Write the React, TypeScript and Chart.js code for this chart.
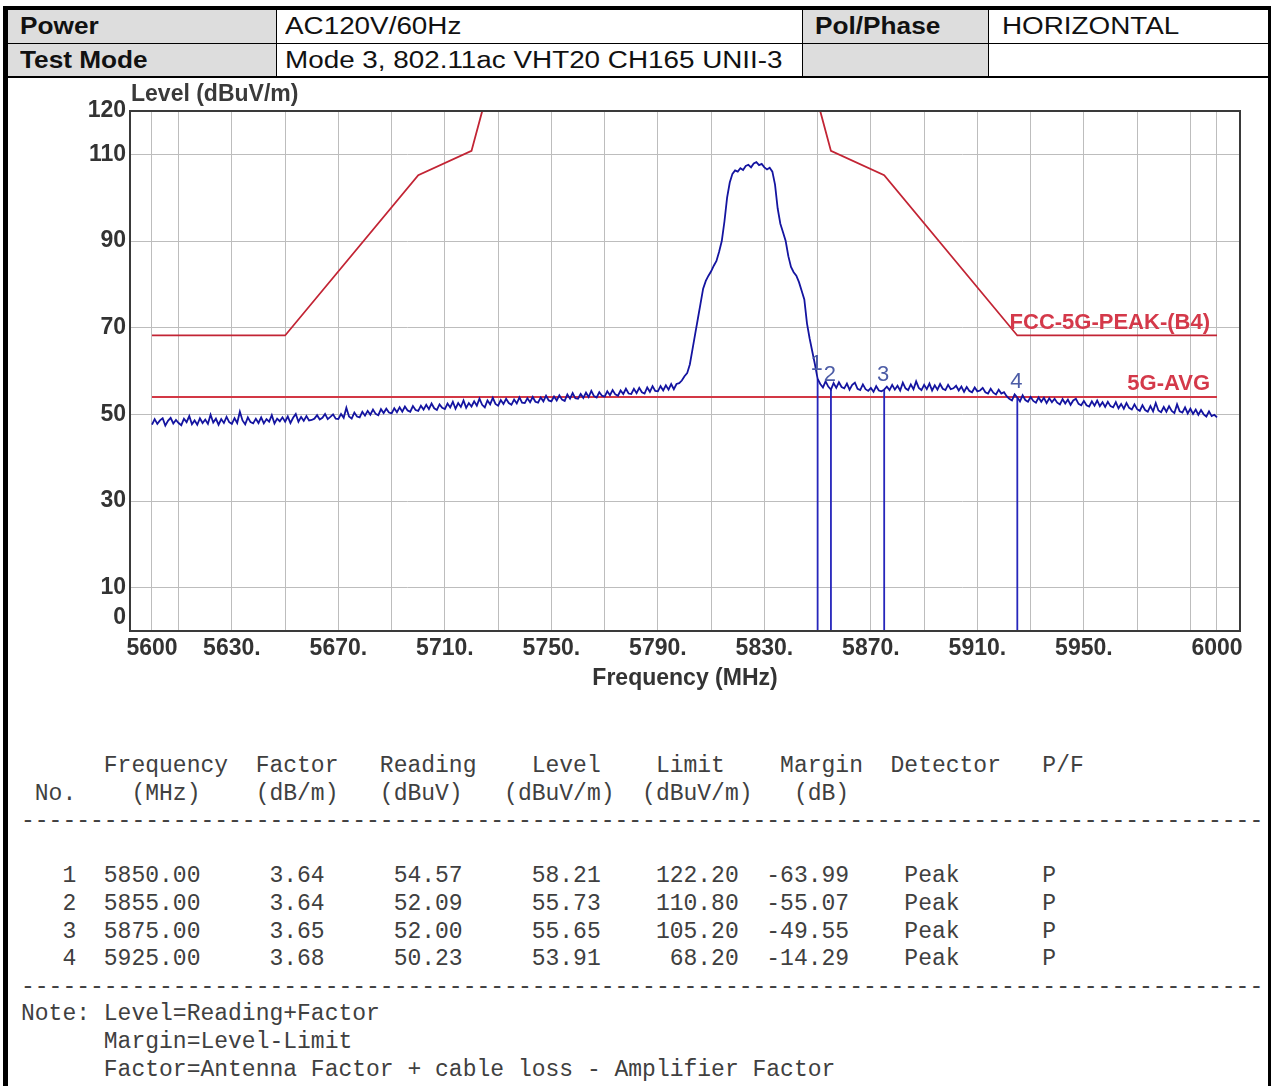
import React, { useEffect, useRef } from "react";
import { Chart, registerables } from "chart.js";

Chart.register(...registerables);

// ---------------- header table ----------------
const headerLabels1 = ["Power", "Pol/Phase"];
const headerValues1 = ["AC120V/60Hz", "HORIZONTAL"];
const headerLabels2 = ["Test Mode", ""];
const headerValues2 = ["Mode 3, 802.11ac VHT20 CH165 UNII-3", ""];

// ---------------- axes ----------------
const yAxisTitle = "Level (dBuV/m)";
const xAxisTitle = "Frequency (MHz)";
const xTickValues = [5600, 5610, 5630, 5650, 5670, 5690, 5710, 5730, 5750, 5770, 5790, 5810, 5830, 5850, 5870, 5890, 5910, 5930, 5950, 5970, 5990, 6000];
const xLabelValues = [5600, 5630, 5670, 5710, 5750, 5790, 5830, 5870, 5910, 5950, 6000];
const xLabelTexts = ["5600", "5630.", "5670.", "5710.", "5750.", "5790.", "5830.", "5870.", "5910.", "5950.", "6000"];
const yTickValues = [0, 10, 30, 50, 70, 90, 110, 120];

// ---------------- measured sweep (dBuV/m), 5600..6000 MHz, 1 MHz step ----------------
const sweepStartMHz = 5600;
const sweepStepMHz = 1;
const traceLevels = [
  47.6, 48.9, 47.8, 48.6, 49.1, 47.4, 48.5, 49.2, 47.9, 48.7,
  48.0, 47.5, 49.0, 48.2, 49.6, 47.7, 48.6, 47.6, 49.1, 48.0,
  48.8, 47.8, 49.9, 48.1, 49.0, 47.6, 48.9, 48.0, 49.4, 48.2,
  47.8, 49.1, 48.0, 50.6, 48.6, 47.7, 49.3, 48.2, 47.9, 49.0,
  48.0, 49.3, 47.9, 48.9, 48.3, 49.8, 47.9, 49.0, 48.4, 49.3,
  48.3, 49.5, 48.0, 49.2, 50.1, 48.3, 49.4, 48.5, 49.6, 48.6,
  48.7, 49.0, 49.8, 48.8, 49.2, 50.1, 48.9, 49.4, 50.0, 49.0,
  48.9, 50.1, 49.2, 51.5, 49.5, 49.0, 50.4, 49.5, 49.3, 50.6,
  49.7, 50.8, 49.9, 51.1, 50.1, 49.8, 51.2, 50.3, 51.3, 50.4,
  50.2, 51.4, 50.5, 51.6, 50.6, 51.8, 50.9, 50.6, 51.9, 51.0,
  50.8, 52.0, 51.1, 52.2, 51.2, 52.5, 51.4, 51.0, 52.3, 51.5,
  51.2, 52.5, 51.6, 52.9, 51.3, 52.6, 51.7, 53.2, 51.5, 52.6,
  51.8, 53.0, 52.0, 53.6, 52.2, 51.6, 53.2, 52.3, 53.8, 52.4,
  52.0, 53.3, 52.4, 53.6, 52.6, 52.2, 53.4, 52.5, 53.9, 52.7,
  52.6, 53.7, 52.8, 54.0, 52.9, 52.7, 53.9, 53.0, 54.3, 53.2,
  53.0, 54.1, 53.2, 54.4, 53.4, 53.1, 54.6, 53.6, 54.9, 53.7,
  53.6, 54.7, 53.8, 55.0, 54.0, 55.4, 54.2, 53.9, 55.1, 54.3,
  54.1, 55.3, 54.4, 55.6, 54.6, 54.3, 55.5, 54.7, 55.9, 54.8,
  54.7, 55.9, 54.9, 56.1, 55.1, 54.8, 56.2, 55.2, 56.5, 55.4,
  55.3, 56.5, 55.5, 56.7, 55.7, 57.0, 55.8, 57.0, 57.2, 57.8,
  58.8, 59.5, 61.5, 65.0, 68.5, 72.0, 75.5, 79.0, 80.8, 82.0,
  83.0, 84.3, 85.4, 87.5, 90.0, 94.5, 100.0, 103.5, 105.5, 106.3,
  106.0, 106.8, 106.4, 107.3, 107.6, 107.0, 107.9, 108.2, 107.5, 107.8,
  107.0, 106.5, 106.9, 106.0, 103.0, 97.5, 94.0, 92.0, 90.0, 86.5,
  84.0, 82.8, 82.0, 80.5, 78.5, 76.5, 71.0, 67.5, 64.5, 61.5,
  58.2, 57.0, 56.2, 57.6, 56.4, 55.7, 57.2, 56.1, 57.4, 56.3,
  56.0, 57.1, 55.7, 56.8, 57.3, 55.9, 55.6, 56.9, 55.8, 55.4,
  56.1, 55.2, 56.5, 55.5, 55.3, 55.7, 56.4, 55.6, 56.8, 55.7,
  56.6, 55.5, 57.3, 56.0, 55.6, 56.9, 55.8, 57.6, 56.1, 55.6,
  56.8, 55.8, 57.1, 55.5, 56.7, 55.7, 57.0, 55.9, 55.6, 56.8,
  55.8, 56.0, 56.6, 55.5, 56.4, 55.2, 56.3, 55.4, 55.1, 56.2,
  55.3, 55.5, 56.1, 55.1, 54.8, 55.9, 55.0, 54.6, 55.7, 54.8,
  55.1, 54.2, 53.6, 53.2, 54.6, 53.9, 53.0, 54.4, 53.3, 52.9,
  54.0, 53.1, 52.7, 53.9, 52.9, 53.8, 52.6, 53.7, 52.8, 53.6,
  52.7, 52.3, 53.5, 52.5, 53.4, 52.2, 53.2, 53.6, 52.4, 52.1,
  53.1, 52.1, 51.8, 53.0, 52.0, 53.2, 51.9, 52.8, 51.7, 52.9,
  51.9, 51.6, 52.8, 51.4, 52.4, 51.3, 52.6, 51.5, 51.1, 52.3,
  51.2, 50.8, 52.1, 51.0, 50.6, 51.9, 50.7, 52.6, 50.9, 50.5,
  51.7, 50.6, 51.9, 50.8, 50.3, 52.3, 50.7, 50.4, 51.6, 50.2,
  51.3, 50.1, 51.1, 49.9, 51.0, 50.0, 49.5, 50.7, 49.6, 49.9,
  49.3,
];

// ---------------- limit lines ----------------
const peakLimitName = "FCC-5G-PEAK-(B4)";
const peakLimitFreqs = [5600, 5650, 5700, 5720, 5725, 5850, 5855, 5875, 5925, 6000];
const peakLimitLevels = [68.2, 68.2, 105.2, 110.8, 122.2, 122.2, 110.8, 105.2, 68.2, 68.2];
const avgLimitName = "5G-AVG";
const avgLimitFreqs = [5600, 6000];
const avgLimitLevels = [54, 54];

// ---------------- markers / result table ----------------
const markerNos = [1, 2, 3, 4];
const markerFreqs = [5850.0, 5855.0, 5875.0, 5925.0];
const markerFactors = [3.64, 3.64, 3.65, 3.68];
const markerReadings = [54.57, 52.09, 52.0, 50.23];
const markerLevels = [58.21, 55.73, 55.65, 53.91];
const markerLimits = [122.2, 110.8, 105.2, 68.2];
const markerMargins = [-63.99, -55.07, -49.55, -14.29];
const markerDetectors = ["Peak", "Peak", "Peak", "Peak"];
const markerPF = ["P", "P", "P", "P"];
const noteLines = [
  "Note: Level=Reading+Factor",
  "      Margin=Level-Limit",
  "      Factor=Antenna Factor + cable loss - Amplifier Factor",
];

// ---------------- helpers ----------------
const SANS = '"Liberation Sans", Arial, Helvetica, sans-serif';

function layoutLine(parts: [number, string][]): string {
  let s = "";
  for (const [col, t] of parts) s = s.padEnd(col, " ") + t;
  return s;
}

function buildTableText(): string {
  const dash = "-".repeat(90);
  const lines: string[] = [];
  lines.push(layoutLine([[6, "Frequency"], [17, "Factor"], [26, "Reading"], [37, "Level"], [46, "Limit"], [55, "Margin"], [63, "Detector"], [74, "P/F"]]));
  lines.push(layoutLine([[1, "No."], [8, "(MHz)"], [17, "(dB/m)"], [26, "(dBuV)"], [35, "(dBuV/m)"], [45, "(dBuV/m)"], [56, "(dB)"]]));
  lines.push(dash);
  lines.push("");
  markerNos.forEach((n, i) => {
    lines.push(
      String(n).padStart(4) +
        markerFreqs[i].toFixed(2).padStart(9) +
        markerFactors[i].toFixed(2).padStart(9) +
        markerReadings[i].toFixed(2).padStart(10) +
        markerLevels[i].toFixed(2).padStart(10) +
        markerLimits[i].toFixed(2).padStart(10) +
        markerMargins[i].toFixed(2).padStart(8) +
        "    " + markerDetectors[i] + "      " + markerPF[i]
    );
  });
  lines.push(dash);
  noteLines.forEach((l) => lines.push(l));
  return lines.join("\n");
}

const annotatePlugin = {
  id: "annotate",
  afterDatasetsDraw(chart: any) {
    const { ctx, chartArea: a, scales } = chart;
    const x = scales.x;
    const y = scales.y;
    ctx.save();
    // plot frame
    ctx.strokeStyle = "#3a3a3a";
    ctx.lineWidth = 2;
    ctx.strokeRect(a.left, a.top, a.right - a.left, a.bottom - a.top);
    // y-axis title
    ctx.fillStyle = "#3a3a3a";
    ctx.font = `bold 23px ${SANS}`;
    ctx.textAlign = "left";
    ctx.textBaseline = "alphabetic";
    ctx.fillText(yAxisTitle, a.left + 1, a.top - 10);
    // limit names
    ctx.font = `bold 22px ${SANS}`;
    ctx.fillStyle = "#d4394a";
    ctx.textAlign = "right";
    const rx = x.getPixelForValue(peakLimitFreqs[peakLimitFreqs.length - 1]) - 7;
    ctx.fillText(peakLimitName, rx, y.getPixelForValue(peakLimitLevels[peakLimitLevels.length - 1]) - 6);
    ctx.fillText(avgLimitName, rx, y.getPixelForValue(avgLimitLevels[avgLimitLevels.length - 1]) - 7);
    // marker numbers
    ctx.font = `22px ${SANS}`;
    ctx.fillStyle = "#4c5ca6";
    ctx.textAlign = "center";
    markerNos.forEach((n, i) => {
      ctx.fillText(String(n), x.getPixelForValue(markerFreqs[i]) - 1, y.getPixelForValue(markerLevels[i]) - 9);
    });
    ctx.restore();
  },
};

export default function App() {
  const canvasRef = useRef<HTMLCanvasElement | null>(null);

  useEffect(() => {
    const canvas = canvasRef.current;
    if (!canvas) return;

    const traceData = traceLevels.map((v, i) => ({ x: sweepStartMHz + i * sweepStepMHz, y: v }));
    const peakData = peakLimitFreqs.map((f, i) => ({ x: f, y: peakLimitLevels[i] }));
    const avgData = avgLimitFreqs.map((f, i) => ({ x: f, y: avgLimitLevels[i] }));
    const markerData: { x: number; y: number | null }[] = [];
    markerFreqs.forEach((f, i) => {
      markerData.push({ x: f, y: 0 });
      markerData.push({ x: f, y: markerLevels[i] });
      markerData.push({ x: f, y: null });
    });

    const firstF = xTickValues[0];
    const lastF = xTickValues[xTickValues.length - 1];
    const pxPerMHz = (1240 - 130 - 22 - 23) / (lastF - firstF);

    const chart = new Chart(canvas, {
      type: "line",
      data: {
        datasets: [
          { label: "Level", data: traceData, borderColor: "#1414a0", borderWidth: 1.8, pointRadius: 0, tension: 0, order: 0 } as any,
          { label: "Markers", data: markerData, borderColor: "#2626bb", borderWidth: 1.8, pointRadius: 0, spanGaps: false, order: 1 } as any,
          { label: avgLimitName, data: avgData, borderColor: "#d33845", borderWidth: 2.2, pointRadius: 0, order: 2 } as any,
          { label: peakLimitName, data: peakData, borderColor: "#c22434", borderWidth: 1.8, pointRadius: 0, order: 3 } as any,
        ],
      },
      options: {
        responsive: false,
        animation: false,
        devicePixelRatio: 1,
        layout: { padding: { left: 0, top: 33, right: 32, bottom: 0 } },
        plugins: {
          legend: { display: false },
          tooltip: { enabled: false },
          title: { display: false },
        },
        scales: {
          x: {
            type: "linear",
            min: firstF - 22 / pxPerMHz,
            max: lastF + 23 / pxPerMHz,
            afterBuildTicks: (s: any) => {
              s.ticks = xTickValues.map((v) => ({ value: v }));
            },
            afterFit: (s: any) => {
              s.height = 87;
            },
            ticks: {
              autoSkip: false,
              maxRotation: 0,
              minRotation: 0,
              padding: 4,
              color: "#333333",
              font: { family: SANS, size: 23, weight: "bold" },
              callback: (v: any) => {
                const idx = xLabelValues.indexOf(Number(v));
                return idx >= 0 ? xLabelTexts[idx] : "";
              },
            },
            grid: { color: "#bdbdbd", lineWidth: 1, drawTicks: false },
            border: { display: false },
            title: {
              display: true,
              text: xAxisTitle,
              color: "#333333",
              font: { family: SANS, size: 23, weight: "bold" },
              padding: { top: 0, bottom: 26 },
            },
          },
          y: {
            type: "linear",
            min: yTickValues[0],
            max: yTickValues[yTickValues.length - 1],
            afterBuildTicks: (s: any) => {
              s.ticks = yTickValues.map((v) => ({ value: v }));
            },
            afterFit: (s: any) => {
              s.width = 130;
            },
            ticks: {
              autoSkip: false,
              padding: 4,
              color: "#333333",
              font: { family: SANS, size: 23, weight: "bold" },
              callback: (v: any) => (Number(v) === yTickValues[0] ? [String(v), ""] : String(v)),
            },
            grid: { color: "#bdbdbd", lineWidth: 1, drawTicks: false },
            border: { display: false },
          },
        },
      } as any,
      plugins: [annotatePlugin],
    });

    return () => chart.destroy();
  }, []);

  const boldCell = (text: string, left: number, top: number, h: number) => (
    <div
      style={{
        position: "absolute",
        left,
        top,
        height: h,
        lineHeight: `${h}px`,
        fontFamily: SANS,
        fontSize: 23,
        fontWeight: 700,
        color: "#111",
        whiteSpace: "nowrap",
        transform: "scaleX(1.14)",
        transformOrigin: "left center",
      }}
    >
      {text}
    </div>
  );
  const plainCell = (text: string, left: number, top: number, h: number) => (
    <div
      style={{
        position: "absolute",
        left,
        top,
        height: h,
        lineHeight: `${h}px`,
        fontFamily: SANS,
        fontSize: 23,
        fontWeight: 400,
        color: "#111",
        whiteSpace: "nowrap",
        transform: "scaleX(1.21)",
        transformOrigin: "left center",
      }}
    >
      {text}
    </div>
  );
  const box = (left: number, top: number, width: number, height: number, bg: string) => (
    <div style={{ position: "absolute", left, top, width, height, background: bg }} />
  );

  return (
    <div style={{ position: "absolute", left: 0, top: 0, width: 1272, height: 1086, background: "#ffffff", overflow: "hidden" }}>
      {/* gray label cells */}
      {box(8, 10, 268, 66, "#dddddd")}
      {box(802, 10, 186, 66, "#dddddd")}
      {/* header lines */}
      {box(3, 6, 1268, 4, "#000")}
      {box(8, 43, 1260, 1, "#000")}
      {box(8, 76, 1260, 2, "#000")}
      {box(276, 10, 1, 66, "#000")}
      {box(802, 10, 1, 66, "#000")}
      {box(988, 10, 1, 66, "#000")}
      {/* header texts */}
      {boldCell(headerLabels1[0], 20, 10, 33)}
      {plainCell(headerValues1[0], 285, 10, 33)}
      {boldCell(headerLabels1[1], 815, 10, 33)}
      {plainCell(headerValues1[1], 1002, 10, 33)}
      {boldCell(headerLabels2[0], 20, 44, 32)}
      {plainCell(headerValues2[0], 285, 44, 32)}
      {boldCell(headerLabels2[1], 815, 44, 32)}
      {plainCell(headerValues2[1], 1002, 44, 32)}

      <canvas
        ref={canvasRef}
        width={1272}
        height={640}
        style={{ position: "absolute", left: 0, top: 78, width: 1272, height: 640 }}
      />

      <pre
        style={{
          position: "absolute",
          left: 21,
          top: 753,
          margin: 0,
          fontFamily: '"Liberation Mono", "DejaVu Sans Mono", monospace',
          fontSize: 23,
          lineHeight: "27.6px",
          color: "#404040",
          whiteSpace: "pre",
        }}
      >
        {buildTableText()}
      </pre>

      {/* outer borders */}
      {box(3, 6, 5, 1080, "#000")}
      {box(1268, 6, 3, 1080, "#000")}
    </div>
  );
}
